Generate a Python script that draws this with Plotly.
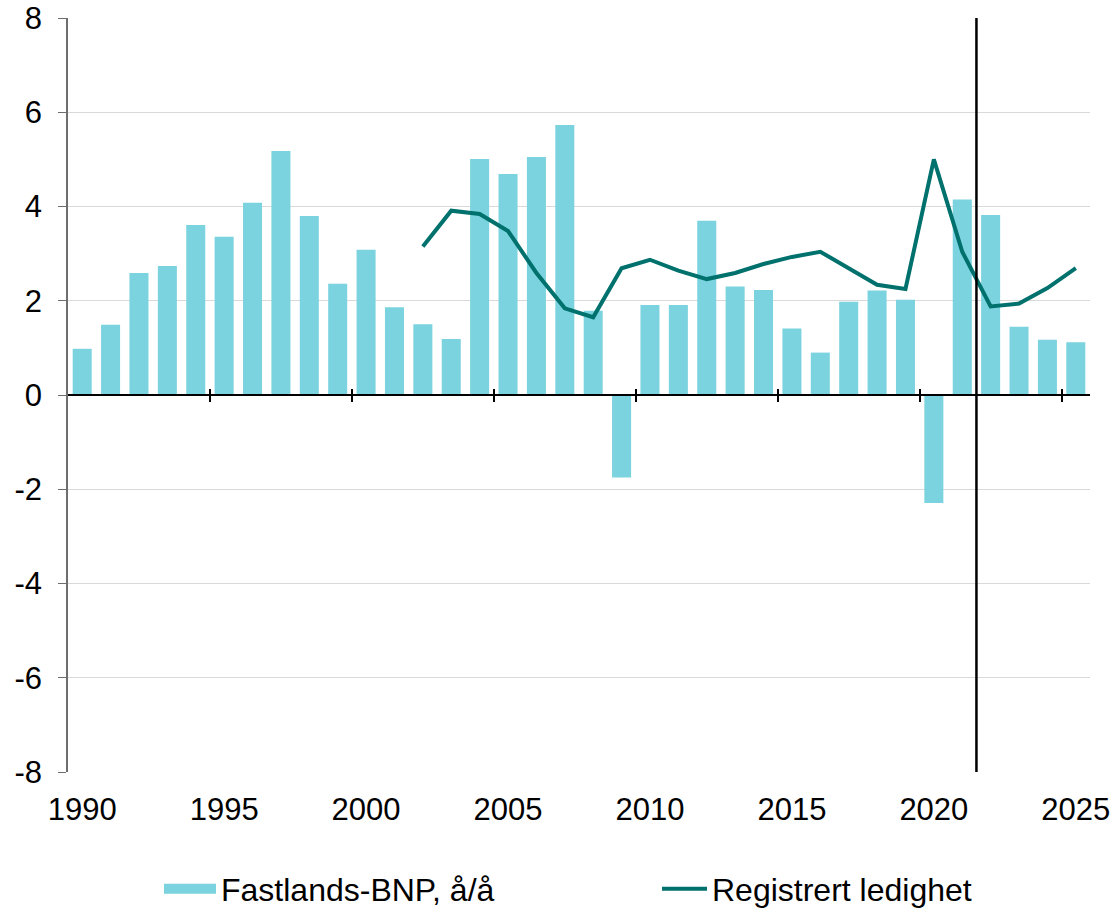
import plotly.graph_objects as go

# data
years = list(range(1990, 2026))
bnp = [0.98, 1.49, 2.59, 2.74, 3.61, 3.36, 4.08, 5.18, 3.80, 2.36,
       3.08, 1.86, 1.50, 1.19, 5.01, 4.69, 5.05, 5.73, 1.79, -1.75,
       1.91, 1.91, 3.70, 2.30, 2.23, 1.41, 0.90, 1.98, 2.22, 2.02,
       -2.29, 4.15, 3.82, 1.45, 1.17, 1.12]

ledighet_years = list(range(2002, 2026))
ledighet = [3.15, 3.91, 3.84, 3.48, 2.59, 1.84, 1.65, 2.69, 2.87, 2.64,
            2.46, 2.59, 2.78, 2.93, 3.04, 2.70, 2.34, 2.25, 5.00, 3.04,
            1.88, 1.94, 2.27, 2.69]

x_labels = [1990, 1995, 2000, 2005, 2010, 2015, 2020, 2025]
y_ticks = [-8, -6, -4, -2, 0, 2, 4, 6, 8]
forecast_start = 2021.5

BAR_COLOR = "#7AD3DE"
LINE_COLOR = "#00716D"
FONT = "Liberation Sans, Arial"

fig = go.Figure()

# bars (legend entry drawn by a wide swatch below)
fig.add_trace(go.Bar(
    x=years, y=bnp,
    name="Fastlands-BNP, å/å",
    legendgroup="bnp", showlegend=False,
    marker=dict(color=BAR_COLOR, line=dict(width=0)),
))
fig.add_trace(go.Scatter(
    x=[None], y=[None], mode="lines",
    name="Fastlands-BNP, å/å",
    legendgroup="bnp", legend="legend",
    line=dict(color=BAR_COLOR, width=15),
    hoverinfo="skip",
))

fig.add_trace(go.Scatter(
    x=ledighet_years, y=ledighet,
    mode="lines",
    name="Registrert ledighet",
    legend="legend2",
    line=dict(color=LINE_COLOR, width=4),
))

xrange = [1989.5, 2025.5]
minor_pos = [y + 0.5 for y in range(1994, 2025, 5)]

# forecast divider
fig.add_shape(type="line", xref="x", yref="paper",
              x0=forecast_start, x1=forecast_start, y0=0, y1=1,
              opacity=1, layer="above",
              line=dict(color="black", width=2.5))

legend_common = dict(
    orientation="h", xref="container", yref="container",
    xanchor="left", yanchor="middle", y=(911 - 889) / 911,
    font=dict(size=32), bgcolor="rgba(0,0,0,0)", borderwidth=0,
)

fig.update_layout(
    width=1117, height=911,
    template="simple_white",
    plot_bgcolor="white",
    margin=dict(l=68, r=27, t=18, b=139),
    font=dict(family=FONT, size=31, color="black"),
    bargap=0.33,
    xaxis=dict(
        range=xrange, automargin=False,
        tickvals=x_labels,
        showline=False, showgrid=False, zeroline=False,
        ticks="outside", ticklen=10, tickcolor="rgba(0,0,0,0)",
        tickfont=dict(size=31),
    ),
    # zero line with tick marks crossing it
    xaxis2=dict(
        overlaying="x", anchor="free", position=0.5, automargin=False,
        range=xrange, tickvals=minor_pos,
        showline=True, linecolor="black", linewidth=2,
        ticks="outside", ticklen=6, tickwidth=1.5, tickcolor="black",
        showticklabels=False, showgrid=False, zeroline=False,
    ),
    xaxis3=dict(
        overlaying="x", anchor="free", position=0.5, automargin=False,
        range=xrange, tickvals=minor_pos,
        showline=False,
        ticks="inside", ticklen=6, tickwidth=1.5, tickcolor="black",
        showticklabels=False, showgrid=False, zeroline=False,
    ),
    yaxis=dict(
        range=[-8, 8], automargin=False,
        tickvals=y_ticks,
        ticktext=[str(v) for v in y_ticks],
        showgrid=True, gridcolor="#D9D9D9", gridwidth=1,
        zeroline=False,
        showline=True, linecolor="#6E6E6E", linewidth=1.5,
        ticks="outside", ticklen=8, tickcolor="#6E6E6E",
        tickfont=dict(size=31),
        ticklabelstandoff=10,
    ),
    legend=dict(legend_common, x=159 / 1117, itemwidth=52),
    legend2=dict(legend_common, x=657 / 1117, itemwidth=45),
)

# invisible helpers so the overlay axes are drawn
fig.add_trace(go.Scatter(x=[None], y=[None], xaxis="x2", showlegend=False, hoverinfo="skip"))
fig.add_trace(go.Scatter(x=[None], y=[None], xaxis="x3", showlegend=False, hoverinfo="skip"))

# drop the default page margin so the chart sits at the window's corner
fig.write_html("out.html", config={"displayModeBar": False},
               post_script="document.body.style.margin='0';")
